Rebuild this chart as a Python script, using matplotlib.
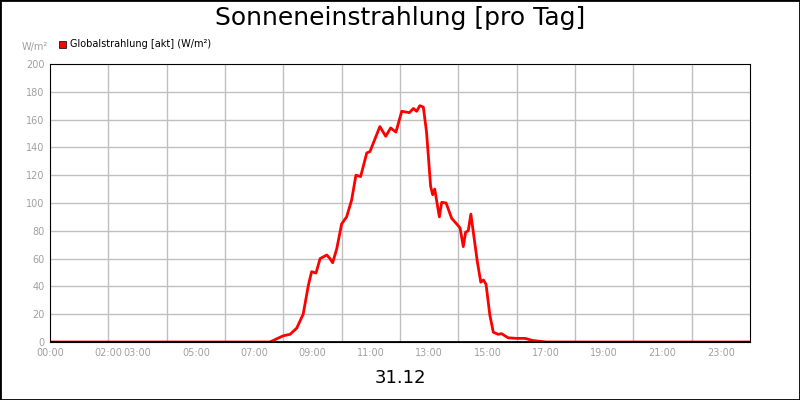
import matplotlib
matplotlib.use("Agg")
import matplotlib.pyplot as plt
from matplotlib.patches import Rectangle

hours = [0, 7.54, 8.0, 8.23, 8.46, 8.68, 8.86, 8.97, 9.12, 9.26, 9.49, 9.6, 9.69, 9.83, 10.0, 10.17,
         10.34, 10.49, 10.65, 10.86, 10.97, 11.31, 11.51, 11.68, 11.86, 12.06, 12.32, 12.46, 12.57,
         12.68, 12.8, 12.91, 13.05, 13.12, 13.19, 13.35, 13.43, 13.58, 13.77, 13.94, 14.06, 14.17,
         14.25, 14.34, 14.43, 14.54, 14.65, 14.77, 14.86, 14.95, 15.08, 15.2, 15.37, 15.48, 15.71,
         16.0, 16.28, 16.57, 17.03, 24]
values = [0, 0, 4.5, 5.5, 10, 20, 41, 50.6, 49.6, 60, 62.6, 60, 57, 67, 85, 90,
          102, 120, 119, 136, 137, 155, 148, 154, 151, 166, 165, 168, 166,
          170, 169, 151, 112, 106, 110, 90, 100.5, 100, 89, 85, 82, 68.6,
          79, 80, 92, 75, 58, 43, 44.6, 41.5, 19.4, 7, 5.5, 6, 3,
          2.6, 2.6, 1, 0, 0]
tick_hours = [0, 2, 3, 5, 7, 9, 11, 13, 15, 17, 19, 21, 23]
tick_labels = ["00:00", "02:00", "03:00", "05:00", "07:00", "09:00", "11:00", "13:00",
               "15:00", "17:00", "19:00", "21:00", "23:00"]

fig = plt.figure(figsize=(8, 4), dpi=100)
fig.patches.append(Rectangle((0, 0), 1, 1, transform=fig.transFigure, fill=False,
                             edgecolor="black", linewidth=2))
ax = fig.add_axes([50/800, 58/400, 700/800, 278/400])
ax.plot(hours, values, color="#ff0000", linewidth=2)
ax.set_xlim(0, 24)
ax.set_ylim(0, 200)
ax.set_yticks(range(0, 201, 20))
ax.set_xticks(tick_hours)
ax.set_xticklabels(tick_labels)
ax.set_xticks(range(2, 24, 2), minor=True)
ax.grid(False)
for h in range(2, 24, 2):
    ax.axvline(h, color="#c0c0c0", linewidth=1, zorder=0)
for v in range(20, 200, 20):
    ax.axhline(v, color="#c0c0c0", linewidth=1, zorder=0)
ax.tick_params(axis="both", labelsize=7, colors="#a0a0a0", length=0, pad=4)
ax.tick_params(which="minor", length=0)
for s in ax.spines.values():
    s.set_color("black")
ax.axhline(0, color="black", linewidth=2, zorder=3)

fig.text(0.5, 0.955, "Sonneneinstrahlung [pro Tag]", ha="center", va="center", fontsize=18)
fig.text(0.5, 0.055, "31.12", ha="center", va="center", fontsize=13)
fig.text(35/800, 1 - 47/400, "W/m²", ha="center", va="center", fontsize=7, color="#a0a0a0")
fig.patches.append(Rectangle((59/800, 1 - 48/400), 7/800, 7/400, transform=fig.transFigure,
                             facecolor="#ff0000", edgecolor="black", linewidth=0.5))
fig.text(70/800, 1 - 44/400, "Globalstrahlung [akt] (W/m²)", ha="left", va="center", fontsize=7)

fig.savefig("out.png", dpi=100)
